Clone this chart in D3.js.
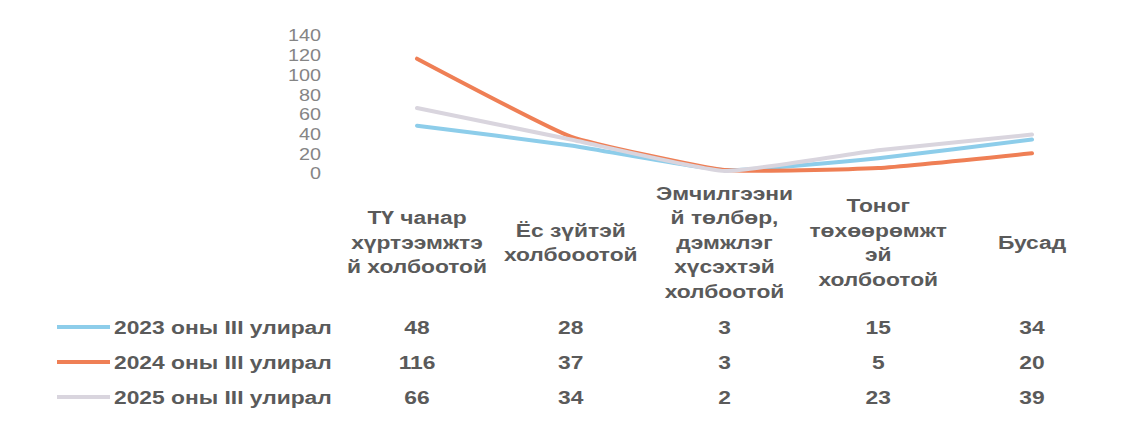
<!DOCTYPE html>
<html>
<head>
<meta charset="utf-8">
<script src="https://cdn.jsdelivr.net/npm/d3@7"></script>
<style>
  html, body { margin: 0; padding: 0; background: #ffffff; }
  svg { display: block; }
</style>
</head>
<body>
<svg id="chart" width="1126" height="421"></svg>
<script>
// ---- data ----
const categories = [
  "ТҮ чанар хүртээмжтэ й холбоотой",
  "Ёс зүйтэй холбооотой",
  "Эмчилгээни й төлбөр, дэмжлэг хүсэхтэй холбоотой",
  "Тоног төхөөрөмжт эй холбоотой",
  "Бусад"
];
const categoryLines = [
  ["ТҮ чанар", "хүртээмжтэ", "й холбоотой"],
  ["Ёс зүйтэй", "холбооотой"],
  ["Эмчилгээни", "й төлбөр,", "дэмжлэг", "хүсэхтэй", "холбоотой"],
  ["Тоног", "төхөөрөмжт", "эй", "холбоотой"],
  ["Бусад"]
];
const seriesNames = ["2023 оны III улирал", "2024 оны III улирал", "2025 оны III улирал"];
const values2023 = [48, 28, 3, 15, 34];
const values2024 = [116, 37, 3, 5, 20];
const values2025 = [66, 34, 2, 23, 39];
const seriesColors = ["#8dcdea", "#ef7f55", "#d9d5de"];
const yTicks = [0, 20, 40, 60, 80, 100, 120, 140];

const series = [values2023, values2024, values2025].map((v, i) => ({
  name: seriesNames[i], values: v, color: seriesColors[i]
}));

// ---- layout ----
const SX = 1.2; // horizontal text stretch
const svg = d3.select("#chart");
const x = d3.scalePoint().domain(categories).range([417, 1032]);
const y = d3.scaleLinear().domain([0, 140]).range([173, 35]);

const textColor = "#5a5a5a";
const font = "'Liberation Sans', Arial, sans-serif";

// y axis
const yAxis = d3.axisLeft(y).tickValues(yTicks).tickSize(0).tickPadding(0);
const gy = svg.append("g").attr("transform", "translate(321,0)").call(yAxis);
gy.select(".domain").remove();
gy.selectAll("text")
  .attr("x", 0)
  .attr("dy", "0.36em")
  .attr("transform", `scale(${SX},1)`)
  .style("font-family", font)
  .style("font-size", "16.5px")
  .style("fill", "#858585");

// lines
const line = d3.line()
  .x((d, i) => x(categories[i]))
  .y(d => y(d))
  .curve(d3.curveCardinal.tension(0.6));

svg.append("g").selectAll("path")
  .data(series)
  .join("path")
  .attr("d", d => line(d.values))
  .attr("fill", "none")
  .attr("stroke", d => d.color)
  .attr("stroke-width", 4)
  .attr("stroke-linecap", "round")
  .attr("stroke-linejoin", "round");

// category labels
const lineH = 24.5;
const labelCenter = 242;
const gl = svg.append("g");
categories.forEach((c, i) => {
  const lines = categoryLines[i];
  const top = labelCenter - (lines.length - 1) * lineH / 2;
  lines.forEach((t, j) => {
    gl.append("text")
      .attr("transform", `translate(${x(c)},${top + j * lineH}) scale(${SX},1)`)
      .attr("text-anchor", "middle")
      .attr("dy", "0.36em")
      .style("font-family", font)
      .style("font-weight", "bold")
      .style("font-size", "19px")
      .style("fill", textColor)
      .text(t);
  });
});

// data table with legend keys
const rowY = [327, 362, 397];
const gt = svg.append("g");
series.forEach((s, r) => {
  gt.append("line")
    .attr("x1", 57).attr("x2", 110)
    .attr("y1", rowY[r]).attr("y2", rowY[r])
    .attr("stroke", s.color)
    .attr("stroke-width", 4);
  gt.append("text")
    .attr("transform", `translate(114,${rowY[r]}) scale(${SX},1)`)
    .attr("dy", "0.36em")
    .style("font-family", font)
    .style("font-weight", "bold")
    .style("font-size", "19px")
    .style("fill", textColor)
    .text(s.name);
  s.values.forEach((v, i) => {
    gt.append("text")
      .attr("transform", `translate(${x(categories[i])},${rowY[r]}) scale(${SX},1)`)
      .attr("text-anchor", "middle")
      .attr("dy", "0.36em")
      .style("font-family", font)
      .style("font-weight", "bold")
      .style("font-size", "19px")
      .style("fill", textColor)
      .text(v);
  });
});
</script>
</body>
</html>
